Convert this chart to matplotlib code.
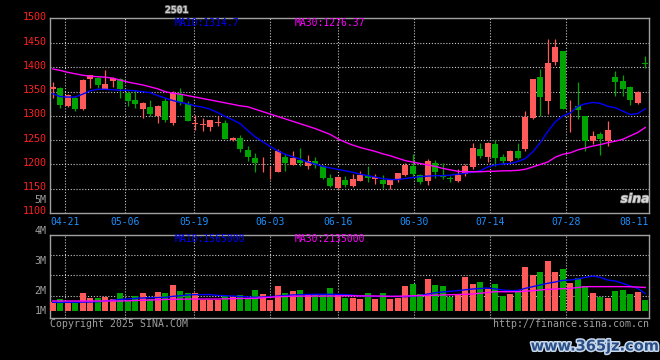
import matplotlib
matplotlib.use("Agg")
import matplotlib.pyplot as plt
import matplotlib.patheffects as pe
from matplotlib.transforms import ScaledTranslation

# --- data ---
days = list(range(1, 81))

opens = [1356, 1358, 1321, 1338, 1315, 1376, 1378, 1356, 1372, 1377,
         1348, 1332, 1315, 1319, 1300, 1330, 1285, 1345, 1325, 1284,
         1282, 1277, 1286, 1285, 1250, 1254, 1229, 1213, 1200, 1188,
         1185, 1216, 1199, 1210, 1196, 1207, 1196, 1172, 1151, 1168,
         1156, 1166, 1177, 1170, 1168, 1158, 1170, 1178, 1196, 1178,
         1166, 1203, 1178, 1173, 1166, 1180, 1195, 1231, 1216, 1242,
         1216, 1207, 1228, 1231, 1296, 1380, 1330, 1412, 1433, 1318,
         1320, 1300, 1248, 1262, 1248, 1380, 1373, 1359, 1327, 1409]
highs = [1371, 1360, 1345, 1342, 1377, 1385, 1380, 1395, 1381, 1378,
         1351, 1354, 1329, 1332, 1323, 1337, 1351, 1358, 1330, 1303,
         1295, 1292, 1300, 1291, 1256, 1260, 1238, 1223, 1216, 1196,
         1231, 1221, 1228, 1235, 1219, 1216, 1199, 1180, 1177, 1177,
         1180, 1187, 1196, 1181, 1178, 1170, 1182, 1204, 1221, 1180,
         1212, 1209, 1203, 1177, 1190, 1201, 1245, 1244, 1246, 1250,
         1222, 1230, 1244, 1311, 1377, 1397, 1459, 1459, 1434, 1332,
         1371, 1300, 1270, 1266, 1289, 1392, 1384, 1361, 1352, 1423]
lows = [1337, 1317, 1318, 1310, 1313, 1358, 1358, 1356, 1360, 1337,
        1320, 1317, 1296, 1300, 1286, 1287, 1282, 1322, 1289, 1272,
        1270, 1269, 1279, 1252, 1249, 1226, 1207, 1185, 1185, 1171,
        1184, 1187, 1199, 1196, 1190, 1192, 1170, 1153, 1149, 1153,
        1153, 1166, 1164, 1160, 1151, 1149, 1164, 1177, 1177, 1160,
        1158, 1173, 1170, 1163, 1163, 1177, 1190, 1214, 1205, 1197,
        1201, 1205, 1212, 1228, 1293, 1300, 1305, 1406, 1315, 1267,
        1293, 1228, 1242, 1219, 1238, 1341, 1341, 1322, 1324, 1399]
closes = [1360, 1323, 1343, 1315, 1375, 1384, 1364, 1366, 1378, 1355,
          1330, 1324, 1326, 1305, 1320, 1291, 1347, 1329, 1289, 1286,
          1283, 1291, 1288, 1252, 1255, 1231, 1215, 1203, 1201, 1189,
          1228, 1203, 1213, 1203, 1207, 1201, 1173, 1156, 1175, 1158,
          1171, 1178, 1172, 1175, 1160, 1168, 1182, 1199, 1180, 1163,
          1207, 1185, 1175, 1171, 1178, 1197, 1233, 1218, 1244, 1214,
          1207, 1228, 1214, 1298, 1377, 1339, 1410, 1443, 1315, 1319,
          1312, 1248, 1259, 1252, 1272, 1370, 1356, 1332, 1349, 1407]

ma10 = [1346, 1340, 1339, 1339, 1345, 1352, 1355, 1355, 1354, 1353,
        1353, 1352, 1350, 1348, 1342, 1337, 1332, 1328, 1325, 1321,
        1318, 1314, 1307, 1299, 1292, 1284, 1270, 1257, 1247, 1237,
        1228, 1221, 1216, 1211, 1205, 1201, 1196, 1193, 1190, 1187,
        1184, 1180, 1177, 1174, 1171, 1169, 1169, 1171, 1173, 1175,
        1176, 1177, 1177, 1178, 1180, 1182, 1184, 1187, 1195, 1199,
        1201, 1202, 1206, 1212, 1226, 1245, 1268, 1288, 1300, 1306,
        1320, 1325, 1328, 1326, 1320, 1317, 1310, 1303, 1305, 1314.7]
ma30 = [1397, 1394, 1390, 1387, 1384, 1382, 1381, 1380, 1378, 1374,
        1370, 1367, 1364, 1360, 1356, 1350, 1347, 1345, 1342, 1339,
        1336, 1333, 1330, 1327, 1324, 1321, 1319, 1314, 1309, 1304,
        1299, 1294, 1289, 1284, 1279, 1274, 1268, 1262, 1253, 1246,
        1240, 1235, 1231, 1227, 1222, 1218, 1213, 1208, 1205, 1202,
        1199, 1196, 1192, 1189, 1186, 1185, 1185, 1185, 1186, 1186,
        1187, 1187, 1188, 1190, 1195, 1200, 1205, 1215, 1221, 1224,
        1230, 1234, 1238, 1241, 1245, 1248, 1252, 1259, 1266, 1276.37]

# volume in millions
volume = [0.82, 1.06, 0.66, 0.66, 1.62, 1.19, 1.13, 1.22, 1.06, 1.62,
          0.88, 1.34, 1.62, 1.06, 1.71, 1.62, 2.36, 1.81, 1.62, 1.62,
          0.97, 0.97, 0.97, 1.34, 1.22, 1.40, 1.19, 1.90, 1.53, 0.97,
          2.27, 1.65, 1.81, 1.90, 1.44, 1.44, 1.40, 2.08, 1.44, 1.19,
          1.19, 1.06, 1.65, 1.06, 1.62, 1.06, 1.19, 2.27, 2.45, 1.53,
          2.92, 2.33, 2.27, 1.28, 1.53, 3.07, 2.50, 2.64, 1.96, 2.45,
          1.34, 1.53, 1.90, 4.03, 3.29, 3.56, 4.58, 3.56, 3.84, 2.55,
          2.98, 2.27, 1.62, 1.25, 1.16, 1.81, 1.90, 1.53, 1.71, 0.97]
vol_ma10 = [0.76, 0.76, 0.76, 0.77, 0.78, 0.79, 0.82, 0.88, 0.95, 1.03,
            1.07, 1.12, 1.16, 1.18, 1.20, 1.22, 1.31, 1.37, 1.44, 1.47,
            1.47, 1.47, 1.40, 1.37, 1.34, 1.30, 1.26, 1.22, 1.25, 1.28,
            1.34, 1.39, 1.44, 1.46, 1.48, 1.50, 1.50, 1.50, 1.49, 1.47,
            1.42, 1.37, 1.34, 1.31, 1.31, 1.31, 1.30, 1.28, 1.32, 1.40,
            1.52, 1.65, 1.72, 1.78, 1.84, 1.92, 1.99, 2.04, 2.08, 2.00,
            1.90, 1.84, 1.86, 2.05, 2.21, 2.36, 2.52, 2.64, 2.79, 2.82,
            2.92, 3.07, 3.19, 3.07, 2.82, 2.73, 2.52, 2.27, 2.05, 1.565]
vol_ma30 = [0.88, 0.88, 0.88, 0.88, 0.88, 0.88, 0.88, 0.88, 0.88, 0.88,
            0.90, 0.92, 0.95, 0.97, 1.00, 1.02, 1.04, 1.05, 1.06, 1.06,
            1.06, 1.06, 1.06, 1.08, 1.10, 1.11, 1.12, 1.13, 1.18, 1.23,
            1.28, 1.30, 1.32, 1.33, 1.34, 1.34, 1.34, 1.34, 1.36, 1.37,
            1.36, 1.35, 1.35, 1.34, 1.33, 1.31, 1.32, 1.34, 1.36, 1.38,
            1.40, 1.42, 1.44, 1.46, 1.48, 1.50, 1.53, 1.60, 1.67, 1.74,
            1.74, 1.74, 1.74, 1.78, 1.84, 1.90, 1.96, 1.99, 2.02, 2.05,
            2.13, 2.21, 2.21, 2.21, 2.21, 2.21, 2.21, 2.20, 2.17, 2.135]

date_labels = ["04-21", "05-06", "05-19", "06-03", "06-16",
               "06-30", "07-14", "07-28", "08-11"]
price_ticks = [1100, 1150, 1200, 1250, 1300, 1350, 1400, 1450, 1500]

# --- layout / style ---
date_pos = [2.64, 10.68, 19.84, 29.97, 39.08, 49.2, 59.35, 69.5, 78.5]
vol_grid = [1.37, 3.29, 5.14]
UP = "#ff5a5a"
DOWN = "#00a400"
GRID = "#c8c8c8"
BORDER = "#a0a0a0"
MONO = "DejaVu Sans Mono"

plt.rcParams["font.family"] = [MONO, "DejaVu Sans"]

fig = plt.figure(figsize=(6.6, 3.6), dpi=100, facecolor="black")
ax = fig.add_axes([50 / 660, 1 - 213 / 360, 599 / 660, 195 / 360])
axv = fig.add_axes([50 / 660, 1 - 318.3 / 360, 599 / 660, 83.3 / 360])

for a in (ax, axv):
    a.set_facecolor("black")
    a.set_xlim(0.64, 80.5)
    for s in a.spines.values():
        s.set_color(BORDER)
        s.set_linewidth(1)
    for p in date_pos[:-1]:
        a.axvline(p, color=GRID, lw=0.8, ls=(0, (1, 1.6)), zorder=1)

ax.set_ylim(1101, 1502)
axv.set_ylim(-0.72, 6.99)

for v in price_ticks[1:-1]:
    ax.axhline(v, color=GRID, lw=0.8, ls=(0, (1, 1.6)), zorder=1)
for v in vol_grid:
    axv.axhline(v, color=GRID, lw=0.8, ls=(0, (1, 1.6)), zorder=1)

colors = [UP if c >= o else DOWN for o, c in zip(opens, closes)]

# candles
ax.vlines(days, lows, highs, colors=colors, lw=0.9, zorder=3)
bottoms = [min(o, c) for o, c in zip(opens, closes)]
heights = [max(abs(c - o), 1.2) for o, c in zip(opens, closes)]
ax.bar(days, heights, bottom=bottoms, width=0.76, color=colors, zorder=4)

ax.plot(days, ma10, color="#0000ff", lw=1, zorder=5)
ax.plot(days, ma30, color="#ff00ff", lw=1, zorder=5)

# volume
axv.bar(days, volume, width=0.8, color=colors, zorder=3)
axv.plot(days, vol_ma10, color="#0000ff", lw=1, zorder=5)
axv.plot(days, vol_ma30, color="#ff00ff", lw=1, zorder=5)

# axes labels
ax.set_yticks(price_ticks)
ax.set_yticklabels([str(v) for v in price_ticks])
ax.tick_params(axis="y", length=0, pad=2.4, colors="#ff2020", labelsize=7.2)
shift_up = ScaledTranslation(0, 0.025, fig.dpi_scale_trans)
for lab in ax.get_yticklabels():
    lab.set_transform(lab.get_transform() + shift_up)
ax.set_xticks(date_pos)
ax.set_xticklabels(date_labels)
ax.tick_params(axis="x", length=0, pad=3, colors="#1e90ff", labelsize=7)
axv.set_xticks([])
axv.set_yticks([])

ax.text(-0.006, 0.067, "5M", transform=ax.transAxes, ha="right", va="center",
        color="#a0a0a0", fontsize=7.2)
for lab, yf in [("4M", 1.05), ("3M", 0.693), ("2M", 0.331), ("1M", 0.091)]:
    axv.text(-0.006, yf, lab, transform=axv.transAxes, ha="right", va="center",
             color="#a0a0a0", fontsize=7.2)

# header texts
fig.text(165 / 660, 1 - 10 / 360, "2501", color="#d0d0d0", fontsize=7,
         fontweight="bold", va="center",
         path_effects=[pe.withStroke(linewidth=1.2, foreground="#606060")])
fig.text(175 / 660, 1 - 23.3 / 360, "MA10:%.1f" % ma10[-1], color="#0000ff",
         fontsize=7, va="center")
fig.text(295 / 660, 1 - 23.3 / 360, "MA30:%.2f" % ma30[-1], color="#ff00ff",
         fontsize=7, va="center")
fig.text(175 / 660, 1 - 238.5 / 360, "MA10:%d" % round(vol_ma10[-1] * 1e6),
         color="#0000ff", fontsize=7, va="center")
fig.text(295 / 660, 1 - 238.5 / 360, "MA30:%d" % round(vol_ma30[-1] * 1e6),
         color="#ff00ff", fontsize=7, va="center")

fig.text(50 / 660, 1 - 324 / 360, "Copyright 2025 SINA.COM", color="#a0a0a0",
         fontsize=7.1, va="center")
fig.text(649 / 660, 1 - 324 / 360, "http://finance.sina.com.cn", color="#a0a0a0",
         fontsize=7.1, va="center", ha="right")

# watermarks
fig.text(635 / 660, 1 - 199 / 360, "sina", color="#d8d8d8", fontsize=9,
         fontweight="bold", style="italic", ha="center", va="center",
         family="DejaVu Sans",
         path_effects=[pe.withStroke(linewidth=1, foreground="#808080")])
fig.text(595 / 660, 1 - 346 / 360, "www.365jz.com", color="#2a4f86",
         fontsize=10.5, fontweight="bold", ha="center", va="center",
         family="DejaVu Sans",
         path_effects=[pe.withStroke(linewidth=2.2, foreground="#c8d8ec")])

fig.savefig("out.png", dpi=100, facecolor="black")
